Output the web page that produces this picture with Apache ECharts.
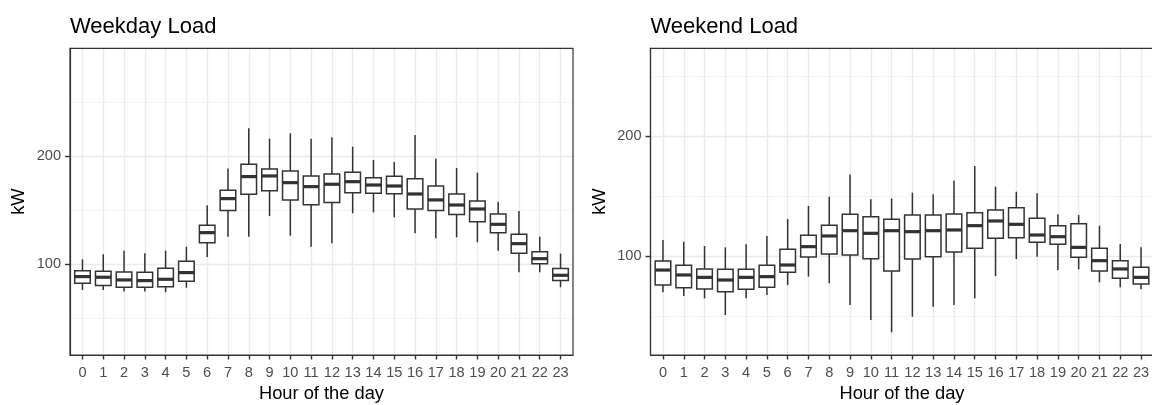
<!DOCTYPE html>
<html>
<head>
<meta charset="utf-8">
<script src="https://cdn.jsdelivr.net/npm/echarts@6/dist/echarts.min.js"></script>
<style>
html,body{margin:0;padding:0;background:#fff;}
#chart{width:1152px;height:405px;}
</style>
</head>
<body>
<div id="chart"></div>
<script>
// Hours of the day (categories)
const hours = [0,1,2,3,4,5,6,7,8,9,10,11,12,13,14,15,16,17,18,19,20,21,22,23];
// Y tick labels
const yMajorTicks = [100, 200];
const yMinorTicks = [50, 150, 250];

// Weekday load (kW): whisker low, Q1, median, Q3, whisker high
const wdLow  = [75.9,75.9,74.4,74.4,73.8,78.0,106.5,125.3,125.3,144.4,126.2,116.0,119.1,146.9,147.8,143.2,128.4,123.8,124.7,120.1,112.3,92.3,92.3,78.4];
const wdQ1   = [82.1,80.0,78.4,78.4,79.0,84.0,119.7,149.4,164.5,167.9,159.3,154.9,156.8,166.0,165.4,165.1,150.9,149.4,145.7,139.2,129.0,109.9,100.3,84.6];
const wdMed  = [88.3,87.7,85.2,84.6,85.8,92.0,129.0,160.5,180.9,181.5,175.3,171.6,173.8,176.2,173.1,172.2,164.8,159.3,154.6,150.9,136.7,118.8,104.9,89.5];
const wdQ3   = [93.8,93.2,92.6,92.3,96.0,102.5,135.8,168.2,192.3,188.0,186.0,181.5,183.3,184.9,179.9,181.2,179.0,172.2,164.8,158.3,146.3,127.4,111.4,95.7];
const wdHigh = [104.3,109.0,112.3,109.9,112.3,116.0,154.3,188.3,225.6,216.0,221.0,216.0,217.3,208.6,196.3,194.4,219.4,197.5,188.9,184.6,157.7,149.0,125.3,109.6];

// Weekend load (kW)
const weLow  = [69.7,66.7,64.7,50.8,64.7,67.5,75.8,82.8,77.2,59.2,46.7,36.4,49.4,57.8,59.2,64.7,83.3,97.5,99.4,88.3,88.9,78.1,73.9,72.2];
const weQ1   = [75.8,73.6,72.5,70.3,72.2,73.9,86.4,99.2,101.7,100.8,97.8,87.5,97.5,99.4,103.3,106.4,114.7,115.3,111.4,109.7,98.9,87.5,81.4,76.7];
const weMed  = [88.3,84.2,82.2,80.0,82.2,82.8,92.5,107.8,116.7,121.1,118.9,121.1,120.3,121.1,121.7,125.3,129.2,126.4,117.5,116.1,107.2,96.1,89.2,82.2];
const weQ3   = [95.8,92.2,89.2,88.9,88.9,92.2,105.6,117.2,125.6,134.7,132.8,130.6,134.2,134.2,135.0,136.1,138.3,140.3,131.4,125.3,126.9,106.4,96.1,90.6];
const weHigh = [113.3,111.9,108.3,107.2,109.7,116.7,130.8,141.7,149.4,168.0,147.2,148.0,152.8,151.4,162.8,175.0,157.8,153.6,152.2,134.7,134.2,125.3,110.0,107.2];

const FONT = '"Liberation Sans", Arial, Helvetica, sans-serif';
const INK = '#333333';

function boxData(low, q1, med, q3, high) {
  return hours.map((h, i) => [h, low[i], q1[i], med[i], q3[i], high[i]]);
}

function renderBox(params, api) {
  const x = api.value(0);
  const pLow = api.coord([x, api.value(1)]);
  const pQ1 = api.coord([x, api.value(2)]);
  const pMed = api.coord([x, api.value(3)]);
  const pQ3 = api.coord([x, api.value(4)]);
  const pHigh = api.coord([x, api.value(5)]);
  const w = api.size([0.75, 0])[0];
  const cx = pMed[0];
  const lineStyle = {stroke: INK, lineWidth: 1.5};
  return {
    type: 'group',
    children: [
      {type: 'line', shape: {x1: cx, y1: pQ3[1], x2: cx, y2: pHigh[1]}, style: lineStyle},
      {type: 'line', shape: {x1: cx, y1: pQ1[1], x2: cx, y2: pLow[1]}, style: lineStyle},
      {type: 'rect', shape: {x: cx - w / 2, y: pQ3[1], width: w, height: pQ1[1] - pQ3[1]},
        style: {fill: '#ffffff', stroke: INK, lineWidth: 1.5}},
      {type: 'line', shape: {x1: cx - w / 2, y1: pMed[1], x2: cx + w / 2, y2: pMed[1]},
        style: {stroke: INK, lineWidth: 3.2}}
    ]
  };
}

function xAxisFor(gridIndex) {
  return {
    type: 'value', gridIndex: gridIndex, min: -0.6, max: 23.6,
    name: 'Hour of the day', nameLocation: 'middle', nameGap: 30,
    nameTextStyle: {fontFamily: FONT, fontSize: 18.3, color: '#000'},
    axisLine: {show: true, onZero: false, lineStyle: {color: INK, width: 1.2}},
    axisTick: {show: true, inside: false, length: 4.5, customValues: hours, lineStyle: {color: INK, width: 1.4}},
    axisLabel: {customValues: hours, formatter: v => String(v), margin: 10,
      fontFamily: FONT, fontSize: 14.6, color: '#4D4D4D'},
    splitLine: {show: true, lineStyle: {color: '#EBEBEB', width: 1.4}}
  };
}

function yAxesFor(gridIndex, min, max, nameGap) {
  return [
    {
      type: 'value', gridIndex: gridIndex, min: min, max: max, minInterval: 100, maxInterval: 100,
      position: 'left',
      name: 'kW', nameLocation: 'middle', nameGap: nameGap, nameRotate: 90,
      nameTextStyle: {fontFamily: FONT, fontSize: 18.3, color: '#000'},
      axisLine: {show: true, onZero: false, lineStyle: {color: INK, width: 1.2}},
      axisTick: {show: true, inside: false, length: 5, customValues: yMajorTicks, lineStyle: {color: INK, width: 1.4}},
      axisLabel: {customValues: yMajorTicks, margin: 9, fontFamily: FONT, fontSize: 14.6, color: '#4D4D4D'},
      splitLine: {show: true, lineStyle: {color: '#EBEBEB', width: 1.4}},
      z: 1
    },
    {
      type: 'value', gridIndex: gridIndex, min: min, max: max, minInterval: 50, maxInterval: 50,
      position: 'right',
      axisLine: {show: false},
      axisTick: {show: false, customValues: yMinorTicks},
      axisLabel: {show: false},
      splitLine: {show: true, lineStyle: {color: '#F0F0F0', width: 0.8}},
      z: 0
    }
  ];
}

const chart = echarts.init(document.getElementById('chart'), null, {renderer: 'canvas'});
const [ly0, ly1] = yAxesFor(0, 15.7, 299.7, 42);
const [ry0, ry1] = yAxesFor(1, 17.5, 273.1, 42);

chart.setOption({
  animation: false,
  backgroundColor: '#ffffff',
  title: [
    {text: 'Weekday Load', left: 70, top: 16, padding: 0, textStyle: {fontFamily: FONT, fontSize: 22, fontWeight: 'normal', color: '#000'}},
    {text: 'Weekend Load', left: 650.5, top: 16, padding: 0, textStyle: {fontFamily: FONT, fontSize: 22, fontWeight: 'normal', color: '#000'}}
  ],
  grid: [
    {left: 70, top: 48.3, width: 503, height: 306.7, outerBoundsMode: 'none', show: true, borderColor: INK, borderWidth: 1.2, backgroundColor: 'transparent', z: 10},
    {left: 650.5, top: 48.3, width: 503, height: 306.7, outerBoundsMode: 'none', show: true, borderColor: INK, borderWidth: 1.2, backgroundColor: 'transparent', z: 10}
  ],
  xAxis: [xAxisFor(0), xAxisFor(1)],
  yAxis: [ly0, ly1, ry0, ry1],
  series: [
    {type: 'custom', name: 'Weekday', xAxisIndex: 0, yAxisIndex: 0,
      data: boxData(wdLow, wdQ1, wdMed, wdQ3, wdHigh),
      encode: {x: 0, y: [1, 2, 3, 4, 5]}, renderItem: renderBox, z: 5},
    {type: 'custom', name: 'Weekend', xAxisIndex: 1, yAxisIndex: 2,
      data: boxData(weLow, weQ1, weMed, weQ3, weHigh),
      encode: {x: 0, y: [1, 2, 3, 4, 5]}, renderItem: renderBox, z: 5}
  ]
});
</script>
</body>
</html>
